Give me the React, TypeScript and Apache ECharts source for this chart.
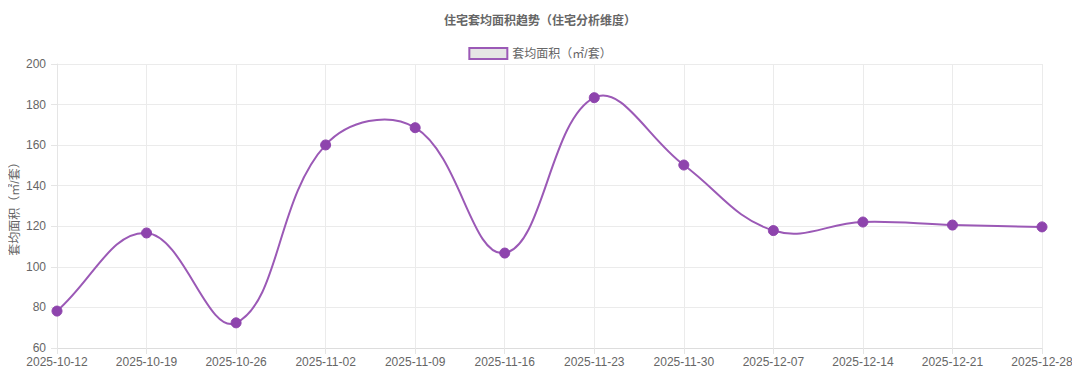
import React, { useEffect, useRef } from "react";
import * as echarts from "echarts";

const categories = [
  "2025-10-12", "2025-10-19", "2025-10-26", "2025-11-02", "2025-11-09", "2025-11-16",
  "2025-11-23", "2025-11-30", "2025-12-07", "2025-12-14", "2025-12-21", "2025-12-28",
];
const avgArea = [78.2, 116.7, 72.4, 160.1, 168.6, 106.8, 183.4, 150.2, 117.9, 122.1, 120.6, 119.7];
const seriesName = "套均面积（㎡/套）";
const titleText = "住宅套均面积趋势（住宅分析维度）";
const TENSION = 0.4;

const FONT = "'Liberation Sans', 'Noto Sans CJK SC', Arial, sans-serif";

function controlPoints(pts: number[][], i: number) {
  const cur = pts[i];
  const prev = pts[Math.max(0, i - 1)];
  const next = pts[Math.min(pts.length - 1, i + 1)];
  const d01 = Math.hypot(cur[0] - prev[0], cur[1] - prev[1]);
  const d12 = Math.hypot(next[0] - cur[0], next[1] - cur[1]);
  let s01 = d01 / (d01 + d12);
  let s12 = d12 / (d01 + d12);
  if (!isFinite(s01)) s01 = 0;
  if (!isFinite(s12)) s12 = 0;
  const fa = TENSION * s01;
  const fb = TENSION * s12;
  return {
    prev: [cur[0] - fa * (next[0] - prev[0]), cur[1] - fa * (next[1] - prev[1])],
    next: [cur[0] + fb * (next[0] - prev[0]), cur[1] + fb * (next[1] - prev[1])],
  };
}

export default function App() {
  const ref = useRef<HTMLDivElement>(null);
  useEffect(() => {
    if (!ref.current) return;
    const chart = echarts.init(ref.current, undefined, { renderer: "svg" });
    chart.setOption({
      animation: false,
      textStyle: { fontFamily: FONT },
      title: {
        text: titleText,
        left: "center",
        top: 2,
        textStyle: { fontSize: 12, fontWeight: "bold", color: "#666", fontFamily: FONT },
      },
      legend: {
        top: 34,
        left: "center",
        icon: "rect",
        itemWidth: 38,
        itemHeight: 11,
        itemGap: 10,
        textStyle: { fontSize: 12, color: "#666", fontFamily: FONT },
        itemStyle: { color: "rgba(0,0,0,0.1)", borderColor: "#9b59b6", borderWidth: 2, opacity: 1 },
        data: [seriesName],
      },
      grid: { left: 49, right: 30, top: 56, bottom: 31, containLabel: false, outerBoundsMode: "none" },
      xAxis: {
        type: "category",
        boundaryGap: false,
        data: categories,
        axisLine: { show: true, lineStyle: { color: "#ddd", width: 1 } },
        axisTick: { show: true, length: 6, lineStyle: { color: "#e5e5e5" }, alignWithLabel: true },
        axisLabel: { color: "#666", fontSize: 12, margin: 8, interval: 0, fontFamily: FONT },
        splitLine: { show: true, lineStyle: { color: "#ebebeb" } },
      },
      yAxis: {
        type: "value",
        min: 60,
        max: 200,
        interval: 20,
        name: seriesName,
        nameLocation: "middle",
        nameGap: 36,
        nameMoveOverlap: false,
        nameTextStyle: { color: "#666", fontSize: 12, fontFamily: FONT },
        axisLine: { show: true, lineStyle: { color: "#e5e5e5" } },
        axisTick: { show: true, length: 6, lineStyle: { color: "#e5e5e5" } },
        axisLabel: { color: "#666", fontSize: 12, margin: 11, fontFamily: FONT },
        splitLine: { show: true, lineStyle: { color: "#ebebeb" } },
      },
      series: [
        {
          name: "curve",
          type: "custom",
          z: 2,
          silent: true,
          data: avgArea.map((v, i) => [i, v]),
          renderItem: (params: any, api: any) => {
            const i = params.dataIndex;
            if (i >= avgArea.length - 1) return null;
            const pts = avgArea.map((v, k) => api.coord([k, v]));
            const a = controlPoints(pts, i);
            const b = controlPoints(pts, i + 1);
            return {
              type: "bezierCurve",
              shape: {
                x1: pts[i][0], y1: pts[i][1],
                x2: pts[i + 1][0], y2: pts[i + 1][1],
                cpx1: a.next[0], cpy1: a.next[1],
                cpx2: b.prev[0], cpy2: b.prev[1],
              },
              style: { stroke: "#9b59b6", lineWidth: 2, fill: "none" },
            };
          },
        },
        {
          name: seriesName,
          type: "line",
          z: 3,
          data: avgArea,
          symbol: "circle",
          symbolSize: 10,
          showSymbol: true,
          lineStyle: { color: "#9b59b6", width: 2, opacity: 0 },
          itemStyle: { color: "#8e44ad", borderColor: "#8e44ad", borderWidth: 1 },
        },
      ],
    });
    return () => chart.dispose();
  }, []);
  return <div ref={ref} style={{ width: 1064, height: 371 }} />;
}
